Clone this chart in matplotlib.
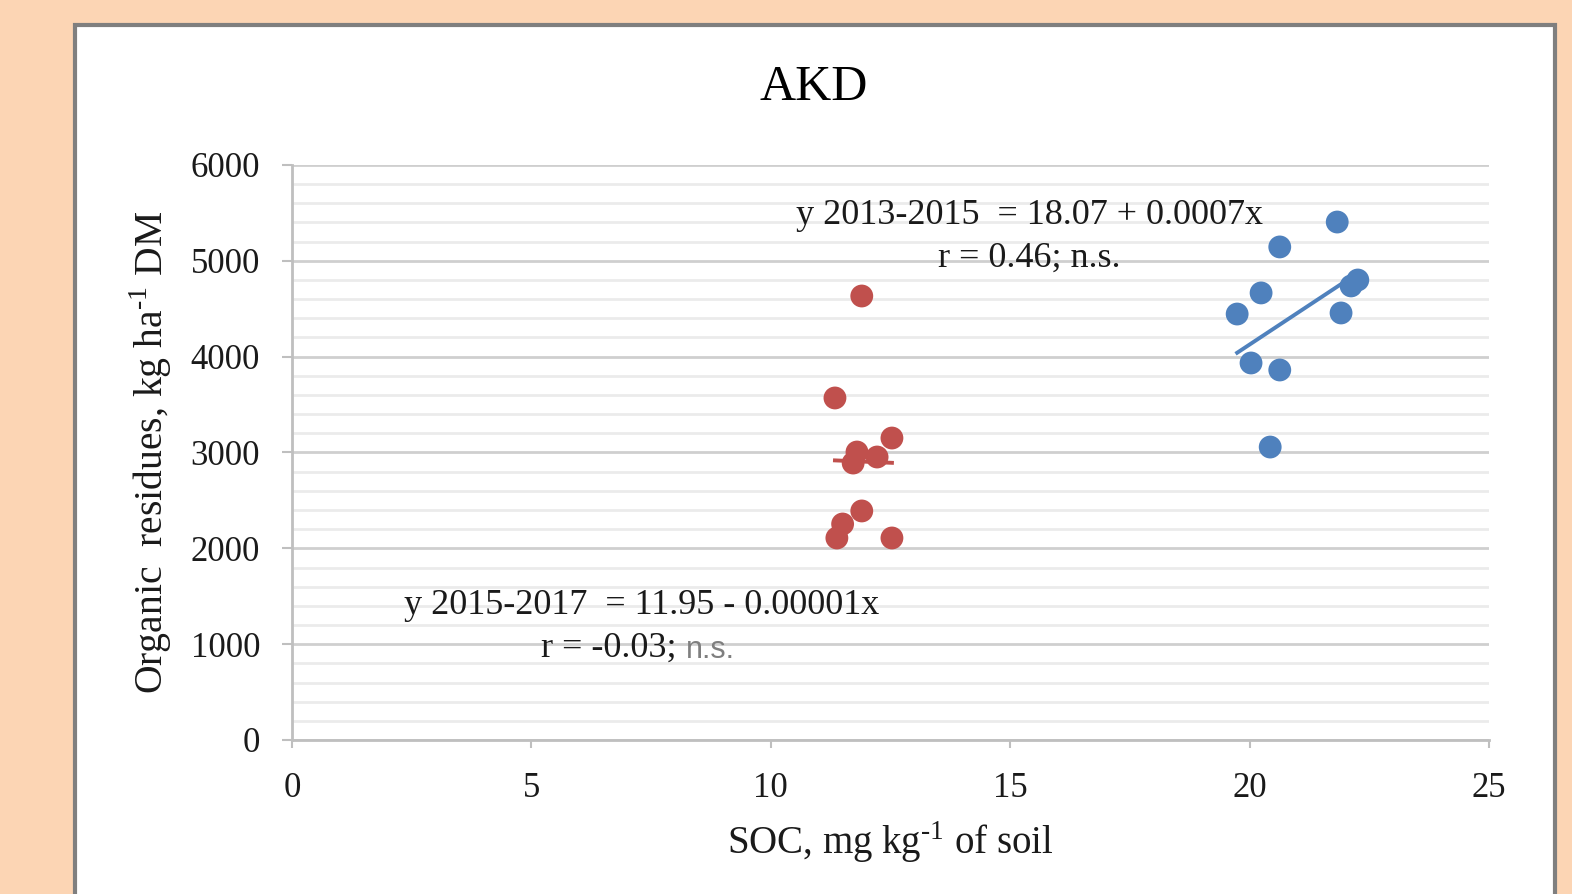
import numpy as np
import matplotlib
matplotlib.use("Agg")
import matplotlib.pyplot as plt
from matplotlib.patches import Rectangle
from matplotlib.ticker import MultipleLocator

# ---------------------------
# Data
# ---------------------------
soc_2015_2017 = [11.90, 11.34, 12.53, 11.80, 11.72, 12.22, 11.90, 11.50, 11.38, 12.53]
res_2015_2017 = [4633, 3569, 3151, 3005, 2890, 2953, 2390, 2254, 2108, 2108]

soc_2013_2015 = [21.83, 20.63, 20.24, 19.74, 22.26, 22.12, 21.91, 20.03, 20.63, 20.43]
res_2013_2015 = [5405, 5145, 4665, 4445, 4800, 4738, 4456, 3934, 3861, 3057]

x_ticks = [0, 5, 10, 15, 20, 25]
y_ticks = [0, 1000, 2000, 3000, 4000, 5000, 6000]

RED = "#C0504D"
BLUE = "#4F81BD"
SERIF = "Liberation Serif"
TXT = "#1a1a1a"

plt.rcParams["mathtext.fontset"] = "custom"
plt.rcParams["mathtext.rm"] = SERIF

# ---------------------------
# Figure + panel
# ---------------------------
fig = plt.figure(figsize=(15.72, 8.94), dpi=100)
fig.patch.set_facecolor("#FCD5B4")

W, H = 1572, 894
panel = Rectangle((75 / W, -0.05), (1555 - 75) / W, (H - 25) / H + 0.05,
                  transform=fig.transFigure, facecolor="white",
                  edgecolor="#7F7F7F", linewidth=3, zorder=-5)
fig.patches.append(panel)

ax = fig.add_axes([292 / W, 1 - 740 / H, (1489 - 292) / W, (740 - 165) / H])
ax.set_facecolor("none")
ax.set_zorder(1)

# ---------------------------
# Points + linear trend lines
# ---------------------------
for xs, ys, col in [(soc_2015_2017, res_2015_2017, RED),
                    (soc_2013_2015, res_2013_2015, BLUE)]:
    xs = np.array(xs)
    ys = np.array(ys)
    k, b = np.polyfit(xs, ys, 1)
    xl = np.array([xs.min(), xs.max()])
    ax.plot(xl, k * xl + b, color=col, lw=2.8, zorder=3)
    ax.scatter(xs, ys, s=270, color=col, edgecolors="none", zorder=4)

# ---------------------------
# Axes styling
# ---------------------------
ax.set_xlim(0, 25)
ax.set_ylim(0, 6000)
ax.set_xticks(x_ticks)
ax.set_yticks(y_ticks)
ax.yaxis.set_minor_locator(MultipleLocator(200))

ax.grid(which="major", axis="y", color="#CFCFCF", lw=2, zorder=1)
ax.grid(which="minor", axis="y", color="#EBEBEB", lw=2, zorder=1)
ax.tick_params(axis="y", which="minor", length=0)

for s in ["top", "right"]:
    ax.spines[s].set_visible(False)
for s in ["left", "bottom"]:
    ax.spines[s].set_color("#BFBFBF")
    ax.spines[s].set_linewidth(2)
    ax.spines[s].set_zorder(2)

ax.tick_params(axis="y", which="major", length=7, width=1.5, color="#BFBFBF",
               pad=16, labelsize=25, labelcolor=TXT)
ax.tick_params(axis="x", which="major", length=6, width=1.5, color="#BFBFBF",
               pad=17, labelsize=25, labelcolor=TXT)
for lab in ax.get_xticklabels() + ax.get_yticklabels():
    lab.set_fontfamily(SERIF)

ax.set_xlabel("SOC, mg kg$^{\\text{-1}}$ of soil", fontfamily=SERIF,
              fontsize=28, color=TXT, labelpad=10)
ax.set_ylabel("Organic  residues, kg ha$^{\\text{-1}}$ DM", fontfamily=SERIF,
              fontsize=28.5, color=TXT, labelpad=12)

fig.text(814 / W, 1 - 88 / H, "AKD", fontfamily=SERIF, fontsize=36,
         ha="center", va="center", color="black")

# ---------------------------
# Regression annotations
# ---------------------------
ax.text(15.4, 5470, "y 2013-2015  = 18.07 + 0.0007x", fontfamily=SERIF,
        fontsize=26, ha="center", va="center", color=TXT, zorder=5)
ax.text(15.4, 5030, "r = 0.46; n.s.", fontfamily=SERIF,
        fontsize=26, ha="center", va="center", color=TXT, zorder=5)

ax.text(7.3, 1400, "y 2015-2017  = 11.95 - 0.00001x", fontfamily=SERIF,
        fontsize=26, ha="center", va="center", color=TXT, zorder=5)
t1 = ax.text(5.2, 960, "r = -0.03; ", fontfamily=SERIF,
             fontsize=26, ha="left", va="center", color=TXT, zorder=5)
ax.annotate("n.s.", xy=(1, 0), xycoords=t1, ha="left", va="bottom",
            fontfamily="Liberation Sans", fontsize=22, color="#7F7F7F", zorder=5)

fig.savefig("out.png", dpi=100, facecolor=fig.get_facecolor())
